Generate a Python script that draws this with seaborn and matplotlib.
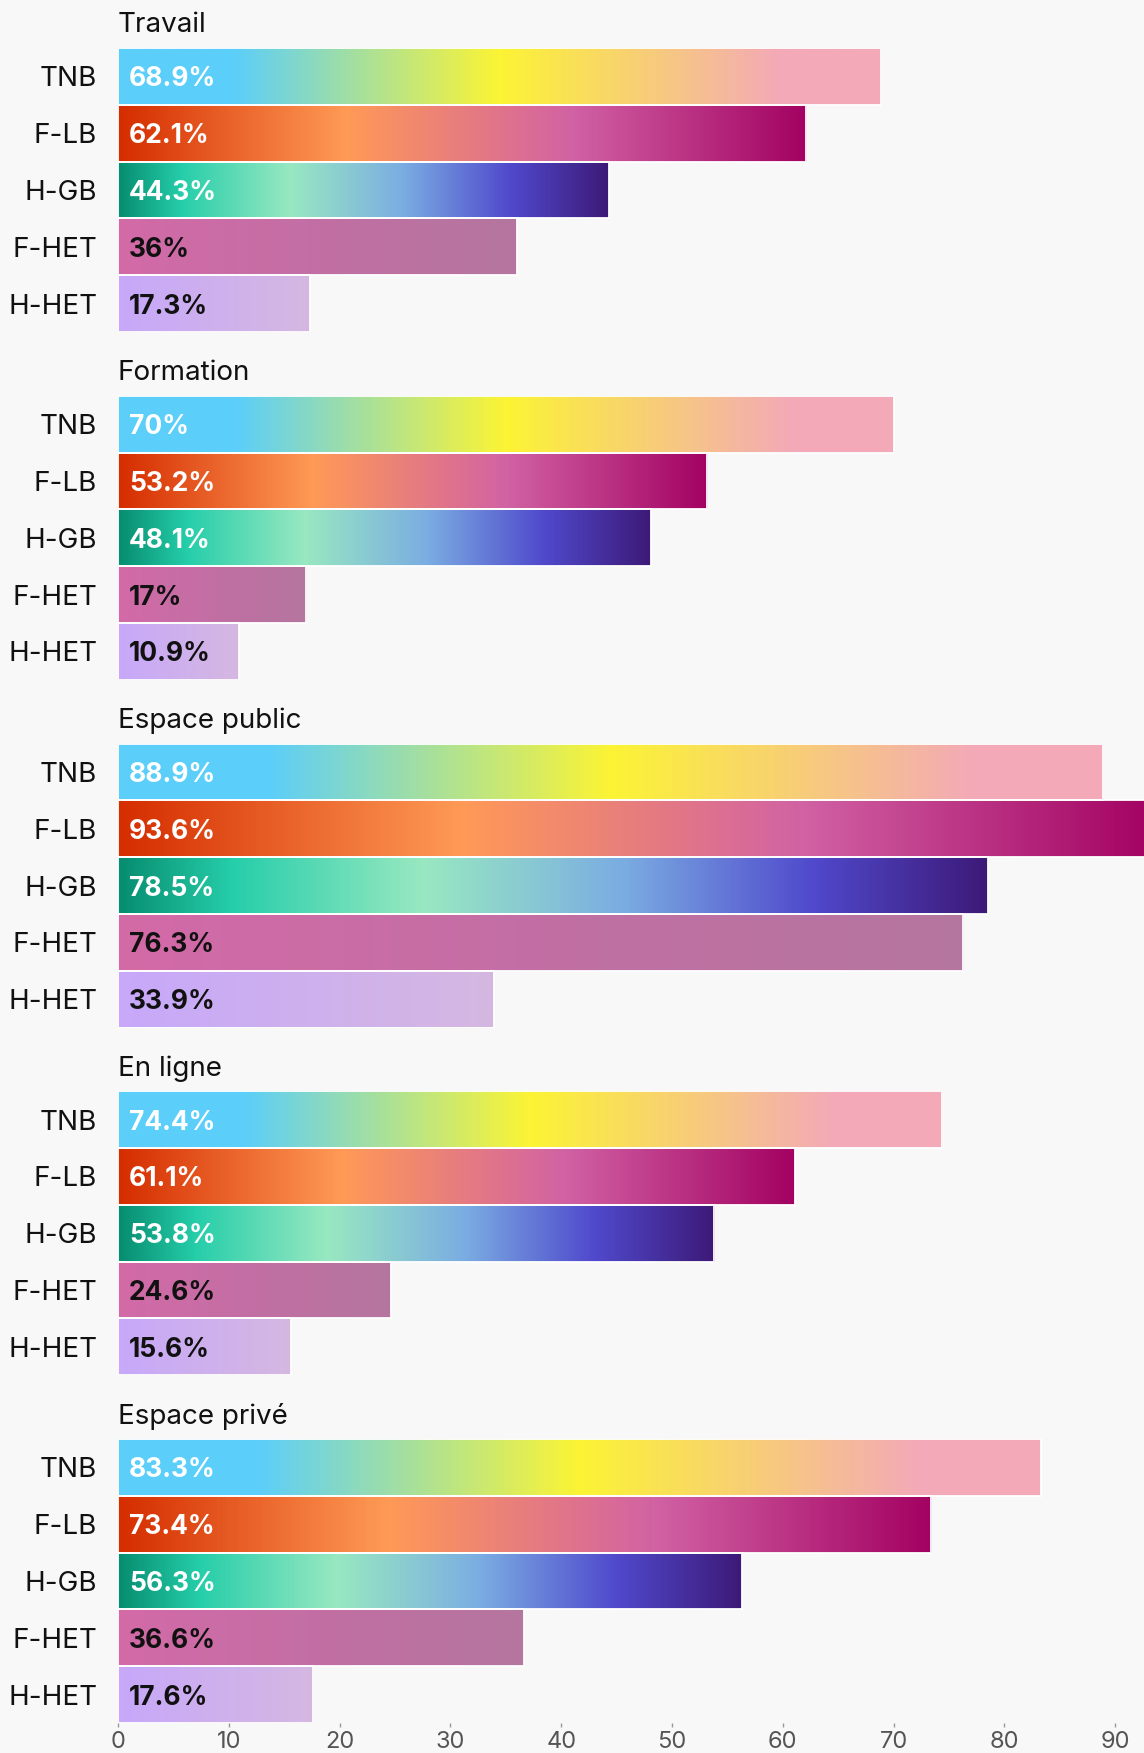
import numpy as np
import pandas as pd
import matplotlib
matplotlib.use("Agg")
import matplotlib.pyplot as plt
from matplotlib.colors import LinearSegmentedColormap
import seaborn as sns

# --- data ---
groupes = ["TNB", "F-LB", "H-GB", "F-HET", "H-HET"]
contextes = ["Travail", "Formation", "Espace public", "En ligne", "Espace privé"]

travail = [68.9, 62.1, 44.3, 36.0, 17.3]
formation = [70.0, 53.2, 48.1, 17.0, 10.9]
espace_public = [88.9, 93.6, 78.5, 76.3, 33.9]
en_ligne = [74.4, 61.1, 53.8, 24.6, 15.6]
espace_prive = [83.3, 73.4, 56.3, 36.6, 17.6]

valeurs = [travail, formation, espace_public, en_ligne, espace_prive]
x_ticks = [0, 10, 20, 30, 40, 50, 60, 70, 80, 90]

# --- gradients (flag colours) ---
GRADIENTS = {
    "TNB": [(0.0, "#5BCEFA"), (0.15, "#5BCEFA"), (0.5, "#FCF434"),
            (0.87, "#F3A9B8"), (1.0, "#F3A9B8")],
    "F-LB": [(0.0, "#D52D00"), (0.33, "#FF9A56"), (0.66, "#D162A4"),
             (1.0, "#A30262")],
    "H-GB": [(0.0, "#078D70"), (0.13, "#26CEAA"), (0.35, "#98E8C1"),
             (0.58, "#7BADE2"), (0.8, "#5049CC"), (1.0, "#3D1A78")],
    "F-HET": [(0.0, "#D36AA7"), (0.5, "#C26FA4"), (1.0, "#B4769F")],
    "H-HET": [(0.0, "#C7A8FA"), (1.0, "#D5B8E1")],
}
LABEL_COLORS = {"TNB": "white", "F-LB": "white", "H-GB": "white",
                "F-HET": "#111111", "H-HET": "#111111"}
cmaps = {k: LinearSegmentedColormap.from_list(k, v) for k, v in GRADIENTS.items()}

BG = "#F8F8F8"
sns.set_theme(style="white")
plt.rcParams["font.family"] = ["Inter", "DejaVu Sans"]

W, H = 1144, 1753
fig = plt.figure(figsize=(W / 100, H / 100), dpi=100, facecolor=BG)

left_px = 118
xmax = (W - left_px) / 11.08
pitch = 347.75
ax_h = 284

grad = np.linspace(0, 1, 256).reshape(1, -1)

for k, (titre, vals) in enumerate(zip(contextes, valeurs)):
    top = 48 + pitch * k
    ax = fig.add_axes([left_px / W, 1 - (top + ax_h) / H, 1 - left_px / W, ax_h / H])
    ax.set_facecolor(BG)
    df = pd.DataFrame({"groupe": groupes, "pct": vals})
    sns.barplot(data=df, x="pct", y="groupe", orient="h", width=1.0,
                color="#cccccc", ax=ax)

    for p, g, v in zip(ax.patches, groupes, vals):
        x0, y0, w, h = p.get_x(), p.get_y(), p.get_width(), p.get_height()
        ax.imshow(grad, cmap=cmaps[g], aspect="auto",
                  extent=[x0, x0 + w, y0 + h, y0], zorder=2)
        p.set_facecolor("none")
        p.set_edgecolor("white")
        p.set_linewidth(1.3)
        p.set_zorder(3)
        ax.annotate(f"{v:g}%", xy=(0, y0 + h / 2), xytext=(8, 0),
                    textcoords="offset points", va="center_baseline", ha="left",
                    fontsize=19, fontweight="bold", color=LABEL_COLORS[g],
                    zorder=4)

    ax.set_xlim(0, xmax)
    ax.set_ylim(4.5, -0.5)
    ax.set_xlabel("")
    ax.set_ylabel("")
    for s in ax.spines.values():
        s.set_visible(False)
    ax.tick_params(axis="y", length=0, pad=15, labelsize=20, labelcolor="#111111")
    ax.text(0, 1 + 23 / ax_h, titre, transform=ax.transAxes, ha="left",
            va="center", fontsize=20, color="#111111")

    if k == len(contextes) - 1:
        ax.set_xticks(x_ticks)
        ax.tick_params(axis="x", bottom=True, length=3, width=1, color="#999999",
                       pad=3, labelsize=17, labelcolor="#555555")
    else:
        ax.set_xticks([])

fig.savefig("out.png", dpi=100, facecolor=BG)
